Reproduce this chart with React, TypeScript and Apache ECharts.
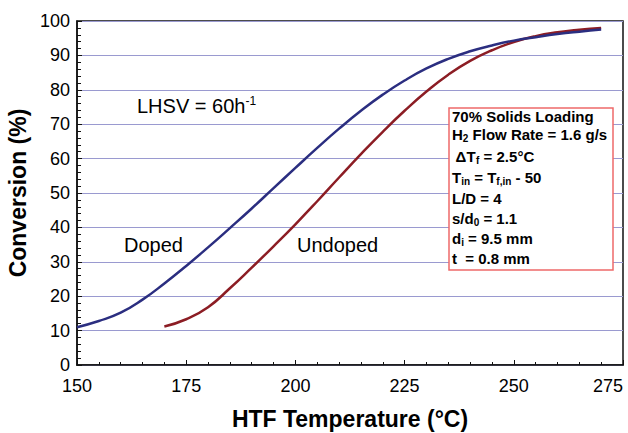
import React, { useEffect, useRef } from "react";
import * as echarts from "echarts";

const dopedTemps = [150, 155, 160, 165, 170, 175, 180, 185, 190, 195, 200, 205, 210, 215, 220, 225, 230, 235, 240, 245, 250, 255, 260, 265, 270];
const dopedValues = [11, 12.8, 15.2, 19, 23.7, 28.8, 34.2, 39.8, 45.5, 51.4, 57.3, 63.1, 68.7, 73.9, 78.6, 82.7, 86.2, 89, 91.2, 92.9, 94.3, 95.3, 96.2, 96.9, 97.5];
const undopedTemps = [170, 175, 180, 185, 190, 195, 200, 205, 210, 215, 220, 225, 230, 235, 240, 245, 250, 255, 260, 265, 270];
const undopedValues = [11.2, 13.3, 16.8, 22.3, 28.3, 34.5, 40.9, 47.6, 54.5, 61.3, 67.8, 73.9, 79.5, 84.4, 88.4, 91.5, 93.9, 95.6, 96.7, 97.45, 98];

const xTicks = { min: 150, max: 275, interval: 25 };
const yTicks = { min: 0, max: 100, interval: 10 };

const FONT = "'Liberation Sans', Arial, Helvetica, sans-serif";

export default function App() {
  const ref = useRef<HTMLDivElement>(null);
  useEffect(() => {
    if (!ref.current) return;
    const chart = echarts.init(ref.current, undefined, { renderer: "svg" });
    const mk = (xs: number[], ys: number[]) => xs.map((x, i) => [x, ys[i]]);
    const main = { fontFamily: FONT, fontSize: 15, fontWeight: "bold", color: "#000", lineHeight: 18, verticalAlign: "middle" };
    const sub = { fontFamily: FONT, fontSize: 10, fontWeight: "bold", color: "#000", lineHeight: 10, verticalAlign: "bottom" };
    const infoLines: { text: string; y: number }[] = [
      { text: "{m|70% Solids Loading}", y: 116 },
      { text: "{m|H}{s|2}{m| Flow Rate = 1.6 g/s}", y: 134.5 },
      { text: "{m| \u0394T}{s|f}{m| = 2.5°C}", y: 156 },
      { text: "{m|T}{s|in}{m| = T}{s|f,in}{m| - 50}", y: 177 },
      { text: "{m|L/D = 4}", y: 198 },
      { text: "{m|s/d}{s|0}{m| = 1.1}", y: 218 },
      { text: "{m|d}{s|i}{m| = 9.5 mm}", y: 238.5 },
      { text: "{m|t  = 0.8 mm}", y: 258 },
    ];
    chart.setOption({
      animation: false,
      textStyle: { fontFamily: FONT },
      grid: {
        left: 77, right: 5, top: 21, bottom: 68,
        outerBoundsMode: "none", containLabel: false,
        show: true, borderColor: "#111", borderWidth: 1.5, backgroundColor: "#fff",
      },
      xAxis: {
        type: "value",
        min: xTicks.min,
        max: xTicks.max,
        interval: xTicks.interval,
        name: "HTF Temperature (°C)",
        nameLocation: "middle",
        nameGap: 42,
        nameTextStyle: { fontFamily: FONT, fontSize: 23, fontWeight: "bold", color: "#000" },
        axisLine: { lineStyle: { color: "#111", width: 1.5 } },
        axisTick: { inside: true, length: 5, lineStyle: { color: "#111" } },
        minorTick: { show: true, splitNumber: 5, length: 3, lineStyle: { color: "#111" } },
        axisLabel: { fontFamily: FONT, fontSize: 18, color: "#000", margin: 12, alignMaxLabel: "right" },
        splitLine: { show: false },
      },
      yAxis: {
        type: "value",
        min: yTicks.min,
        max: yTicks.max,
        interval: yTicks.interval,
        name: "Conversion (%)",
        nameLocation: "middle",
        nameGap: 44,
        nameTextStyle: { fontFamily: FONT, fontSize: 23, fontWeight: "bold", color: "#000" },
        axisLine: { lineStyle: { color: "#111", width: 1.5 } },
        axisTick: { inside: true, length: 5, lineStyle: { color: "#111" } },
        minorTick: { show: true, splitNumber: 5, length: 4, lineStyle: { color: "#111" } },
        axisLabel: { fontFamily: FONT, fontSize: 18, color: "#000", margin: 7 },
        splitLine: { show: true, lineStyle: { color: "#9a9ad0", width: 1 } },
      },
      series: [
        {
          name: "Doped",
          type: "line",
          smooth: 0.5,
          showSymbol: false,
          data: mk(dopedTemps, dopedValues),
          lineStyle: { color: "#2b2e80", width: 2.5 },
          z: 3,
        },
        {
          name: "Undoped",
          type: "line",
          smooth: 0.5,
          showSymbol: false,
          data: mk(undopedTemps, undopedValues),
          lineStyle: { color: "#8c1d24", width: 2.5 },
          z: 2,
        },
      ],
      graphic: [
        {
          type: "text",
          left: 137,
          top: 95,
          style: {
            text: "{a|LHSV = 60h}{b|-1}",
            rich: {
              a: { fontFamily: FONT, fontSize: 20, color: "#000", lineHeight: 22, verticalAlign: "middle" },
              b: { fontFamily: FONT, fontSize: 12, color: "#000", lineHeight: 12, verticalAlign: "top" },
            },
          },
        },
        { type: "text", left: 124, top: 235, style: { text: "Doped", fontFamily: FONT, fontSize: 20, fill: "#000" } },
        { type: "text", left: 297, top: 235, style: { text: "Undoped", fontFamily: FONT, fontSize: 20, fill: "#000" } },
        {
          type: "rect",
          shape: { x: 449, y: 108, width: 164, height: 162 },
          style: { fill: "#fff", stroke: "#ee6a6a", lineWidth: 1.5 },
          z: 10,
        },
        ...infoLines.map((l) => ({
          type: "text",
          x: 452,
          y: l.y,
          z: 11,
          style: { text: l.text, rich: { m: main, s: sub }, verticalAlign: "middle", align: "left" },
        })),
      ],
    });
    return () => chart.dispose();
  }, []);
  return <div ref={ref} style={{ position: "fixed", left: 0, top: 0, width: 628, height: 433, background: "#fff" }} />;
}
